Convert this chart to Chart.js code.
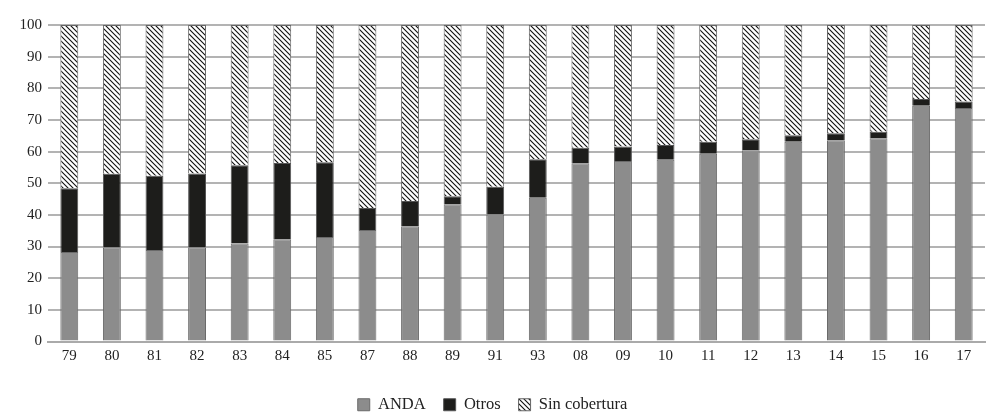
<!DOCTYPE html>
<html lang="es">
<head>
<meta charset="UTF-8">
<title>Cobertura</title>
<script src="https://cdn.jsdelivr.net/npm/chart.js"></script>
<style>
  html, body { margin: 0; padding: 0; background: #fff; }
  #wrap { width: 1000px; height: 417px; }
</style>
</head>
<body>
<div id="wrap"><canvas id="myChart"></canvas></div>
<script>
// years (two-digit labels as in the original)
const years = ['79','80','81','82','83','84','85','87','88','89','91','93','08','09','10','11','12','13','14','15','16','17'];
// ANDA share (%)
const anda = [28.3, 29.7, 28.9, 29.7, 31.0, 32.3, 33.0, 35.2, 36.4, 43.4, 40.1, 45.4, 56.3, 57.0, 57.4, 59.3, 60.4, 63.1, 63.6, 64.2, 74.5, 73.8];
// Otros share (%)
const otros = [20.1, 23.3, 23.5, 23.4, 24.7, 24.1, 23.6, 7.0, 8.0, 2.5, 8.8, 12.2, 4.9, 4.6, 4.7, 3.8, 3.5, 2.1, 2.2, 2.1, 2.1, 2.0];
// Sin cobertura = rest up to 100
const sinCobertura = [51.6, 47.0, 47.6, 46.9, 44.3, 43.6, 43.4, 57.8, 55.6, 54.1, 51.1, 42.4, 38.8, 38.4, 37.9, 36.9, 36.1, 34.8, 34.2, 33.7, 23.4, 24.2];
const yTicks = [0, 10, 20, 30, 40, 50, 60, 70, 80, 90, 100];

// diagonal hatch for "Sin cobertura"
function hatch() {
    const c = document.createElement('canvas');
    c.width = 5; c.height = 5;
    const g = c.getContext('2d');
    g.fillStyle = '#fff';
    g.fillRect(0, 0, 5, 5);
    g.strokeStyle = '#111';
    g.lineWidth = 1.1;
    g.beginPath();
    g.moveTo(-1, -1); g.lineTo(6, 6);
    g.moveTo(-1, 4); g.lineTo(1, 6);
    g.moveTo(4, -1); g.lineTo(6, 1);
    g.stroke();
    return g.createPattern(c, 'repeat');
}

const serif = '"Liberation Serif", "DejaVu Serif", serif';

const ctx = document.getElementById('myChart').getContext('2d');
new Chart(ctx, {
    type: 'bar',
    data: {
        labels: years,
        datasets: [
            { label: 'ANDA', data: anda, backgroundColor: '#8c8c8c', borderColor: '#6a6a6a', borderWidth: 1 },
            { label: 'Otros', data: otros, backgroundColor: '#1d1d1b', borderColor: '#555', borderWidth: 1 },
            { label: 'Sin cobertura', data: sinCobertura, backgroundColor: hatch(), borderColor: '#666', borderWidth: 1 }
        ]
    },
    options: {
        responsive: true,
        maintainAspectRatio: false,
        animation: false,
        barPercentage: 0.42,
        categoryPercentage: 1,
        layout: { padding: { top: 25, right: 15, left: 0, bottom: -6 } },
        plugins: {
            tooltip: { enabled: false },
            legend: {
                position: 'bottom',
                labels: {
                    color: '#222',
                    font: { family: serif, size: 16.5 },
                    boxWidth: 12,
                    boxHeight: 12,
                    padding: 18
                }
            }
        },
        scales: {
            x: {
                stacked: true,
                afterFit: axis => { axis.height += 7; },
                grid: { display: false, drawTicks: false },
                border: { color: '#aaa', width: 2 },
                ticks: { color: '#222', font: { family: serif, size: 15 }, padding: 6, maxRotation: 0 }
            },
            y: {
                stacked: true,
                min: 0,
                max: 100,
                afterBuildTicks: axis => { axis.ticks = yTicks.map(v => ({ value: v })); },
                afterFit: axis => { axis.width = 48; },
                grid: { color: '#b3b3b3', lineWidth: 2, drawTicks: false },
                border: { display: false },
                ticks: { color: '#222', font: { family: serif, size: 15 }, padding: 6 }
            }
        }
    }
});
</script>
</body>
</html>
